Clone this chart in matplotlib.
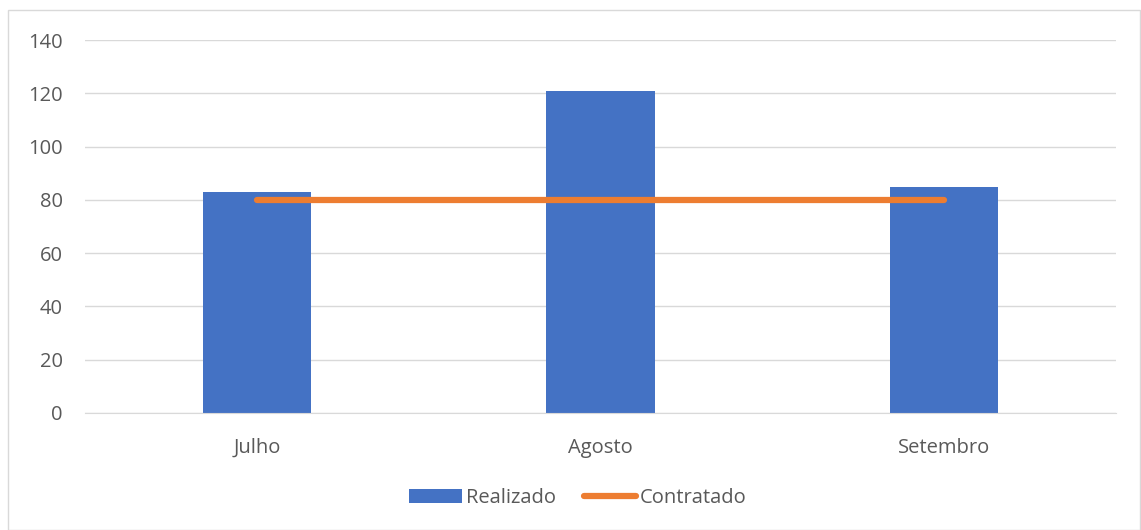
import matplotlib
matplotlib.use("Agg")
import matplotlib.pyplot as plt
from matplotlib.patches import Rectangle

categories = ["Julho", "Agosto", "Setembro"]
realizado = [83, 121, 85]
contratado = [80, 80, 80]
yticks = [0, 20, 40, 60, 80, 100, 120, 140]

plt.rcParams['font.family'] = ['Open Sans', 'DejaVu Sans']
W, H = 1141, 530
fig = plt.figure(figsize=(W/100, H/100), dpi=100)
ax = fig.add_axes([85/W, (H-413)/H, (1116-85)/W, (413-40)/H])

x = list(range(len(categories)))
bars = ax.bar(x, realizado, width=0.315, color="#4472C4", label="Realizado", zorder=2)
line, = ax.plot(x, contratado, color="#ED7D31", linewidth=4.5, solid_capstyle="round",
                label="Contratado", zorder=3)

ax.set_xlim(-0.5, 2.5)
ax.set_ylim(0, 140)
ax.set_yticks(yticks)
ax.set_xticks(x)
ax.set_xticklabels(categories)
ax.grid(axis="y", color="#D9D9D9", linewidth=1, zorder=0)
for s in ["top", "right", "left"]:
    ax.spines[s].set_visible(False)
ax.spines["bottom"].set_color("#D9D9D9")
ax.tick_params(axis="both", length=0, labelsize=14.5, colors="#595959")
ax.tick_params(axis="y", pad=16)
ax.tick_params(axis="x", pad=18)

fig.patches.append(Rectangle((8/W, 0), (W-9)/W, (H-10)/H, transform=fig.transFigure,
                             fill=False, edgecolor="#D9D9D9", linewidth=1))

leg = fig.legend([bars, line], ["Realizado", "Contratado"], loc="center",
                 bbox_to_anchor=(578/W, (H-498)/H), ncol=2, frameon=False,
                 fontsize=14.5, handlelength=2.6, handletextpad=0.2, columnspacing=1.4)
for t in leg.get_texts():
    t.set_color("#595959")

fig.savefig("out.png", dpi=100)
